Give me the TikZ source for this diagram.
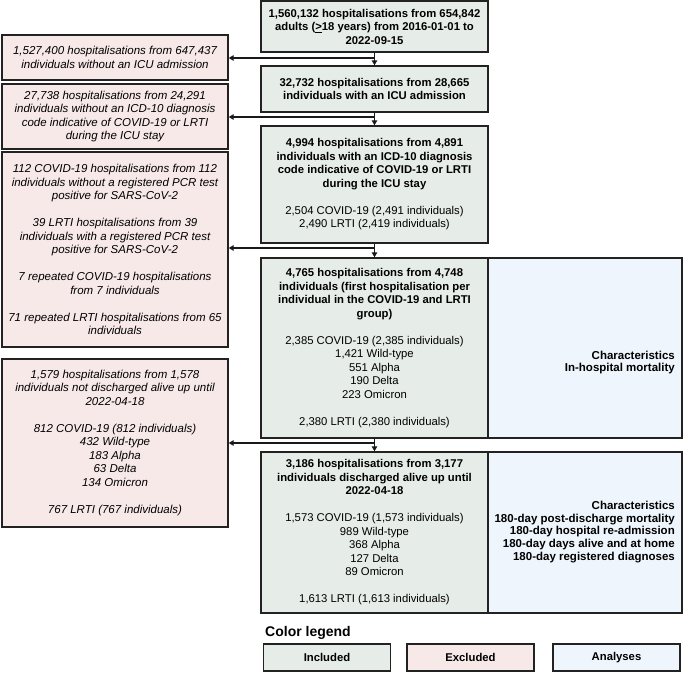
\documentclass[tikz,border=0pt]{standalone}
\usepackage{fontspec}
\setmainfont{Liberation Sans}
\usetikzlibrary{arrows.meta}

\definecolor{inclfill}{RGB}{230,236,232}
\definecolor{exclfill}{RGB}{247,233,232}
\definecolor{anafill}{RGB}{239,245,253}
\definecolor{boxline}{RGB}{34,34,34}

\begin{document}
\begin{tikzpicture}[x=1pt,y=-1pt,
  box/.style={draw=boxline, line width=1.4pt, align=center, inner sep=0pt,
    font=\fontsize{11.3}{13.5}\selectfont},
  incl/.style={box, fill=inclfill, minimum width=227pt},
  excl/.style={box, fill=exclfill, minimum width=226pt, font=\fontsize{11.5}{13.5}\selectfont\itshape},
  ana/.style={box, fill=anafill, minimum width=194pt},
  anatext/.style={align=right, inner sep=0pt, font=\fontsize{11.5}{12.7}\selectfont\bfseries},
  legbox/.style={box, minimum width=127pt, minimum height=27pt, font=\fontsize{11.3}{13.5}\selectfont\bfseries},
  arr/.style={line width=1.3pt, draw=black!90, -{Triangle[length=5pt,width=5.5pt]}}]
\useasboundingbox (0,0) rectangle (685,672);

% included path
\node[incl, minimum height=51pt] (all) at (374.5,26.5)
  {\textbf{1,560,132 hospitalisations from 654,842}\\
   \textbf{adults (\underline{>}18 years) from 2016-01-01 to}\\
   \textbf{2022-09-15}};
\node[incl, minimum height=46pt] (icu) at (374.5,89)
  {\textbf{32,732 hospitalisations from 28,665}\\
   \textbf{individuals with an ICU admission}};
\node[incl, minimum height=117pt] (diag) at (374.5,184.5)
  {\textbf{4,994 hospitalisations from 4,891}\\
   \textbf{individuals with an ICD-10 diagnosis}\\
   \textbf{code indicative of COVID-19 or LRTI}\\
   \textbf{during the ICU stay}\\[13.5pt]
   2,504 COVID-19 (2,491 individuals)\\
   2,490 LRTI (2,419 individuals)};
\node[incl, minimum height=180pt] (first) at (374.5,348)
  {\textbf{4,765 hospitalisations from 4,748}\\
   \textbf{individuals (first hospitalisation per}\\
   \textbf{individual in the COVID-19 and LRTI}\\
   \textbf{group)}\\[13.5pt]
   2,385 COVID-19 (2,385 individuals)\\
   1,421 Wild-type\\
   551 Alpha\\
   190 Delta\\
   223 Omicron\\[13.5pt]
   2,380 LRTI (2,380 individuals)};
\node[incl, minimum height=161pt] (alive) at (374.5,532.5)
  {\textbf{3,186 hospitalisations from 3,177}\\
   \textbf{individuals discharged alive up until}\\
   \textbf{2022-04-18}\\[13.5pt]
   1,573 COVID-19 (1,573 individuals)\\
   989 Wild-type\\
   368 Alpha\\
   127 Delta\\
   89 Omicron\\[13.5pt]
   1,613 LRTI (1,613 individuals)};

% excluded
\node[excl, minimum height=45pt] (noicu) at (115,57.5)
  {1,527,400 hospitalisations from 647,437\\
   individuals without an ICU admission};
\node[excl, minimum height=65pt] (nodiag) at (115,116.5)
  {27,738 hospitalisations from 24,291\\
   individuals without an ICD-10 diagnosis\\
   code indicative of COVID-19 or LRTI\\
   during the ICU stay};
\node[excl, minimum height=195pt] (nopcr) at (115,249.5)
  {112 COVID-19 hospitalisations from 112\\
   individuals without a registered PCR test\\
   positive for SARS-CoV-2\\[13.5pt]
   39 LRTI hospitalisations from 39\\
   individuals with a registered PCR test\\
   positive for SARS-CoV-2\\[13.5pt]
   7 repeated COVID-19 hospitalisations\\
   from 7 individuals\\[13.5pt]
   71 repeated LRTI hospitalisations from 65\\
   individuals};
\node[excl, minimum height=168pt] (died) at (115,443)
  {1,579 hospitalisations from 1,578\\
   individuals not discharged alive up until\\
   2022-04-18\\[13.5pt]
   812 COVID-19 (812 individuals)\\
   432 Wild-type\\
   183 Alpha\\
   63 Delta\\
   134 Omicron\\[13.5pt]
   767 LRTI (767 individuals)};

% analyses
\node[ana, minimum height=180pt] (ana1) at (585,348) {};
\node[ana, minimum height=161pt] (ana2) at (585,532.5) {};
\node[anatext, anchor=east] (ana1txt) at (675,362.5)
  {Characteristics\\ In-hospital mortality};
\node[anatext, anchor=east] (ana2txt) at (675,532)
  {Characteristics\\
   180-day post-discharge mortality\\
   180-day hospital re-admission\\
   180-day days alive and at home\\
   180-day registered diagnoses};

% arrows
\coordinate (b1) at (374.5,58);
\coordinate (b2) at (374.5,117);
\coordinate (b3) at (374.5,248);
\coordinate (b4) at (374.5,443);
\path[draw,arr] (all) -- (icu);
\path[draw,arr] (icu) -- (diag);
\path[draw,arr] (diag) -- (first);
\path[draw,arr] (first) -- (alive);
\path[draw,arr] (b1) -- (b1 -| noicu.east);
\path[draw,arr] (b2) -- (b2 -| nodiag.east);
\path[draw,arr] (b3) -- (b3 -| nopcr.east);
\path[draw,arr] (b4) -- (b4 -| died.east);

% legend
\node[anchor=west, inner sep=0pt, font=\fontsize{14}{16}\selectfont\bfseries] (legtitle) at (265,633) {Color legend};
\node[legbox, fill=inclfill] (legincl) at (327,657.5) {Included};
\node[legbox, fill=exclfill] (legexcl) at (470.5,657.5) {Excluded};
\node[legbox, fill=anafill] (legana) at (616.5,657.5) {Analyses};
\end{tikzpicture}
\end{document}
